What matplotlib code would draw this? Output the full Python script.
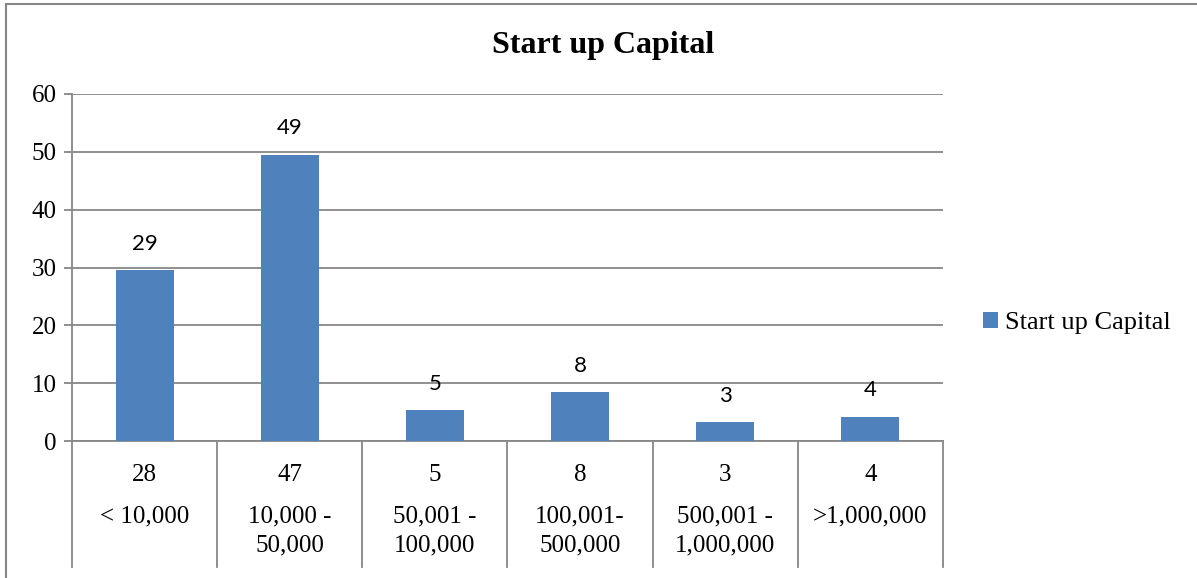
import matplotlib
matplotlib.use("Agg")
import matplotlib.pyplot as plt
from matplotlib.lines import Line2D
from matplotlib.patches import Patch
import matplotlib.transforms as mtransforms

# percentage of respondents per start up capital band
pct = [29.5, 49.5, 5.3, 8.4, 3.2, 4.2]
pct_labels = ["29", "49", "5", "8", "3", "4"]
counts = ["28", "47", "5", "8", "3", "4"]
ranges = ["< 10,000", "10,000 -\n50,000", "50,001 -\n100,000",
          "100,001-\n500,000", "500,001 -\n1,000,000", ">1,000,000"]
yticks = [0, 10, 20, 30, 40, 50, 60]

BLUE = "#4F81BD"
GRID = "#878787"
SERIF = "Liberation Serif"

W, H = 1197, 578
fig = plt.figure(figsize=(W / 100, H / 100), dpi=100)

# axes box in pixels: left 72, right 943, top 94, bottom 441
ax = fig.add_axes([72 / W, (H - 441) / H, (943 - 72) / W, (441 - 94) / H])

x = list(range(len(pct)))
ax.bar(x, pct, width=0.4, color=BLUE, zorder=3, label="Start up Capital")

for xi, v, lab in zip(x, pct, pct_labels):
    ax.annotate(lab, (xi, v), xytext=(0, 19), textcoords="offset points",
                ha="center", va="center", fontsize=16, family="Lato")

ax.set_xlim(-0.5, len(pct) - 0.5)
ax.set_ylim(0, 60)
ax.set_yticks(yticks)
ax.set_yticklabels([str(t) for t in yticks], family=SERIF, fontsize=18)
ax.set_xticks([])
ax.tick_params(axis="y", length=6, width=1.3, color=GRID, pad=5)

ax.grid(axis="y", color=GRID, linewidth=1.3, zorder=0)
ax.set_axisbelow(True)
for s in ["top", "right"]:
    ax.spines[s].set_visible(False)
for s in ["left", "bottom"]:
    ax.spines[s].set_color(GRID)
    ax.spines[s].set_linewidth(1.3)

# two-level category axis below the plot
ah = 441 - 94
trans = mtransforms.blended_transform_factory(ax.transData, ax.transAxes)
sep_bottom = -(567 - 441) / ah
for i in range(len(pct) + 1):
    ax.add_line(Line2D([i - 0.5, i - 0.5], [0, sep_bottom], transform=trans,
                       color=GRID, linewidth=1.3, clip_on=False))

for xi, c, r in zip(x, counts, ranges):
    ax.text(xi, -(475 - 441) / ah, c, transform=trans, ha="center", va="center",
            family=SERIF, fontsize=18)
    ax.text(xi, -(505 - 441) / ah, r, transform=trans, ha="center", va="top",
            family=SERIF, fontsize=18, linespacing=1.45)

fig.text(603 / W, 1 - 45 / H, "Start up Capital", ha="center", va="center",
         family=SERIF, fontsize=23, fontweight="bold")

# outer chart frame (top and left edges visible)
fig.add_artist(Line2D([6 / W, 6 / W], [0, 1 - 4 / H], transform=fig.transFigure,
                      color=GRID, linewidth=1.5))
fig.add_artist(Line2D([6 / W, 1], [1 - 4 / H, 1 - 4 / H], transform=fig.transFigure,
                      color=GRID, linewidth=1.5))

handle = Patch(facecolor=BLUE, edgecolor="none")
fig.legend([handle], ["Start up Capital"], loc="center left",
           bbox_to_anchor=(983 / W, 1 - 323 / H), frameon=False,
           prop={"family": SERIF, "size": 19}, handlelength=0.55,
           handleheight=0.55, handletextpad=0.3, borderaxespad=0,
           borderpad=0)

fig.savefig("out.png", dpi=100)
